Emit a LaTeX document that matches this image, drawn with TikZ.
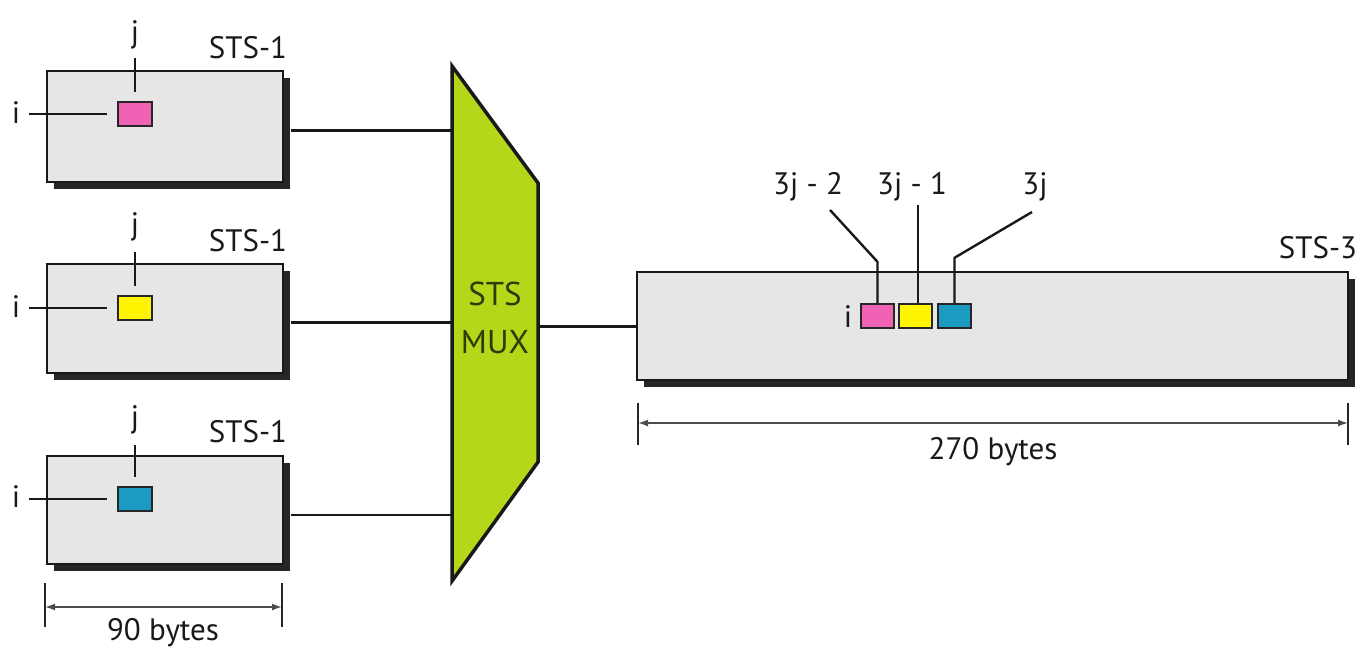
\documentclass[tikz,border=0pt]{standalone}
\usepackage{fontspec}
\setmainfont{PT Sans}
\usetikzlibrary{shadows,arrows.meta}
\definecolor{boxgray}{HTML}{E6E6E6}
\definecolor{cpink}{HTML}{F062B4}
\definecolor{cyellow}{HTML}{FFF500}
\definecolor{ccyan}{HTML}{1B9AC2}
\definecolor{muxgreen}{HTML}{B4D719}
\definecolor{muxtext}{HTML}{2E3A0A}
\begin{document}
\begin{tikzpicture}[x=1pt,y=-1pt,
  frame/.style={draw=black!90, line width=2.4pt, fill=boxgray, inner sep=0pt,
    drop shadow={shadow xshift=7pt, shadow yshift=-7pt, fill=black!85, opacity=1}},
  cell/.style={draw=black!85, line width=2.4pt, minimum width=34pt, minimum height=24pt, inner sep=0pt},
  lbl/.style={font=\fontsize{31}{36}\selectfont, inner sep=0pt, text=black!90},
  wire/.style={line width=3pt, draw=black!90},
  lead/.style={line width=2.4pt, draw=black!90},
  tick/.style={line width=2.4pt, draw=black!85},
  dim/.style={line width=1.6pt, draw=black!70, {Latex[length=10pt,width=7pt]}-{Latex[length=10pt,width=7pt]}}
]
\useasboundingbox (0,0) rectangle (1360,654);

% STS-1 frames
\node[frame, minimum width=236pt, minimum height=111pt] (b1) at (165,126.5) {};
\node[frame, minimum width=236pt, minimum height=109pt] (b2) at (165,318.5) {};
\node[frame, minimum width=236pt, minimum height=108pt] (b3) at (165,510) {};

\node[lbl] (t1) at (248,48) {STS-1};
\node[lbl] (t2) at (248,241) {STS-1};
\node[lbl] (t3) at (248,432) {STS-1};

% cells in STS-1
\node[cell, fill=cpink] (c1) at (135,114) {};
\node[cell, fill=cyellow] (c2) at (135,308) {};
\node[cell, fill=ccyan] (c3) at (135,499) {};

% j labels
\node[lbl] (j1) at (135,35) {j};
\node[lbl] (j2) at (135,227) {j};
\node[lbl] (j3) at (135,420) {j};
\draw[lead] ([yshift=9pt]c1.north) -- ++(0,-34);
\draw[lead] ([yshift=9pt]c2.north) -- ++(0,-34);
\draw[lead] ([yshift=9pt]c3.north) -- ++(0,-32);

% i labels
\node[lbl] (i1) at (16,113) {i};
\node[lbl] (i2) at (16,307) {i};
\node[lbl] (i3) at (16,497) {i};
\draw[lead] ([xshift=-10pt]c1.west) -- ++(-78,0);
\draw[lead] ([xshift=-10pt]c2.west) -- ++(-78,0);
\draw[lead] ([xshift=-10pt]c3.west) -- ++(-78,0);

% MUX
\coordinate (mtl) at (452,66);
\coordinate (mtr) at (538,183);
\coordinate (mbr) at (538,462);
\coordinate (mbl) at (452,581);
\filldraw[fill=muxgreen, draw=black!90, line width=3.5pt, line join=miter] (mtl) -- (mtr) -- (mbr) -- (mbl) -- cycle;
\node[font=\fontsize{33}{48}\selectfont, text=muxtext, align=center, inner sep=0pt] (mux) at (495,318) {STS\\MUX};

% wires into MUX
\coordinate (m1) at (452,130);
\coordinate (m2) at (452,322);
\coordinate (m3) at (452,515);
\draw[wire] ([xshift=7pt]b1.east |- m1) -- (m1);
\draw[wire] ([xshift=7pt]b2.east |- m2) -- (m2);
\draw[wire, line width=2.4pt] ([xshift=7pt]b3.east |- m3) -- (m3);

% STS-3 frame
\node[frame, minimum width=711pt, minimum height=108pt] (s3) at (992.5,326) {};
\node[lbl] (t4) at (1318,248) {STS-3};
\coordinate (mr) at (538,326);
\draw[wire] (mr) -- (s3.west);

% cells in STS-3
\node[cell, fill=cpink, minimum width=33pt] (p) at (877.5,316) {};
\node[cell, fill=cyellow, minimum width=33pt] (y) at (915.5,316) {};
\node[cell, fill=ccyan, minimum width=33pt] (c) at (954.5,316) {};
\node[lbl] (i4) at (848,317) {i};

\node[lbl] (l1) at (808,187) {3j - 2};
\node[lbl] (l2) at (912,187) {3j - 1};
\node[lbl] (l3) at (1035,187) {3j};
\coordinate (e1) at (830,210);
\coordinate (e2) at (918,205);
\coordinate (e3) at (1032,212);
\draw[lead, line join=round] (p.north) -- ++(0,-41) -- (e1);
\draw[lead] (y.north -| e2) -- (e2);
\draw[lead, line join=round] (c.north) -- ++(0,-45) -- (e3);

% 270 bytes dimension
\coordinate (d1a) at (638,403); \coordinate (d1b) at (638,445);
\coordinate (d2a) at (1348,403); \coordinate (d2b) at (1348,445);
\draw[tick] (d1a) -- (d1b);
\draw[tick] (d2a) -- (d2b);
\coordinate (d1m) at (638,423); \coordinate (d2m) at (1348,423);
\draw[dim] (d1m) -- (d2m);
\node[lbl] (w3) at (993,452) {270 bytes};

% 90 bytes dimension
\coordinate (f1a) at (45,583); \coordinate (f1b) at (45,627);
\coordinate (f2a) at (282,583); \coordinate (f2b) at (282,627);
\draw[tick] (f1a) -- (f1b);
\draw[tick] (f2a) -- (f2b);
\coordinate (f1m) at (45,607); \coordinate (f2m) at (282,607);
\draw[dim] (f1m) -- (f2m);
\node[lbl] (w1) at (163,633) {90 bytes};
\end{tikzpicture}
\end{document}
